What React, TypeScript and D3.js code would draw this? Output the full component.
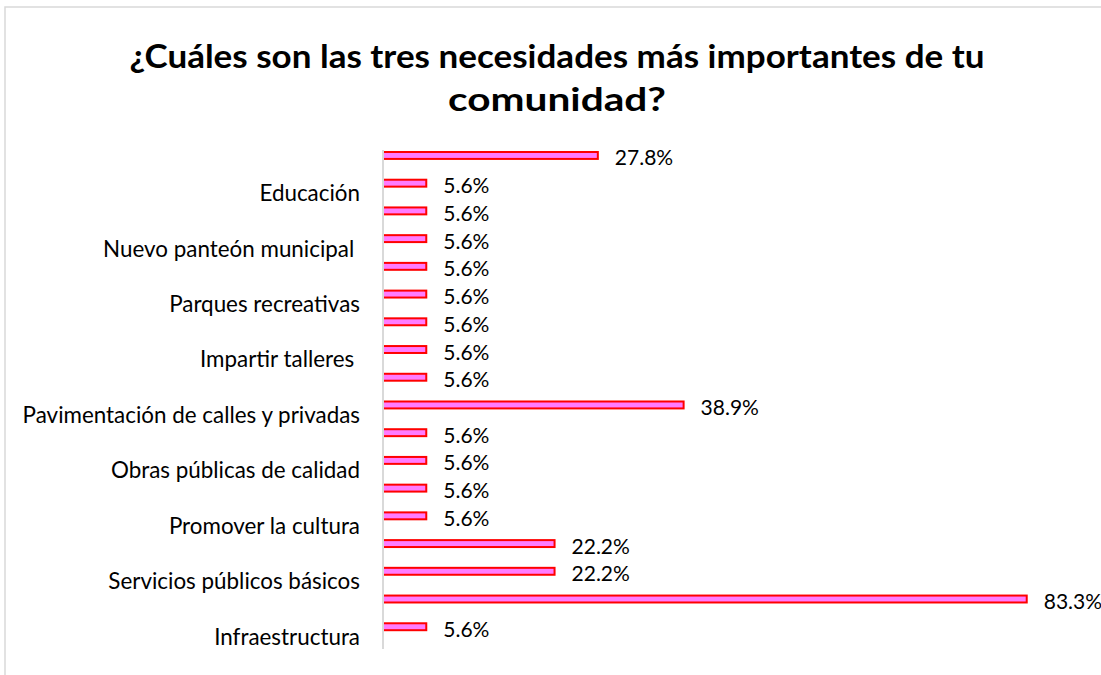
import React from "react";
import * as d3 from "d3";

const titleLines = ["¿Cuáles son las tres necesidades más importantes de tu", "comunidad?"];
const titleWidths = [855, 218];

// Category labels (Excel showed only every other label; hidden ones left blank)
const categories = [
  "",
  "Educación",
  "",
  "Nuevo panteón municipal ",
  "",
  "Parques recreativas",
  "",
  "Impartir talleres ",
  "",
  "Pavimentación de calles y privadas",
  "",
  "Obras públicas de calidad",
  "",
  "Promover la cultura",
  "",
  "Servicios públicos básicos",
  "",
  "Infraestructura",
];

const values = [
  0.278, 0.056, 0.056, 0.056, 0.056, 0.056, 0.056, 0.056, 0.056,
  0.389, 0.056, 0.056, 0.056, 0.056, 0.222, 0.222, 0.833, 0.056,
];

const W = 1101;
const H = 675;
const FONT = "Lato, 'Open Sans', sans-serif";

export default function App() {
  const plotLeft = 383;
  const plotTop = 150;
  const plotBottom = 649;
  const x = d3.scaleLinear().domain([0, 0.9]).range([plotLeft, plotLeft + 695.5]);
  const y = d3
    .scaleBand<number>()
    .domain(d3.range(values.length))
    .range([plotTop, plotBottom])
    .paddingInner(0)
    .paddingOuter(0);
  const bw = y.bandwidth();
  const fmt = d3.format(".1%");

  return (
    <svg
      width={W}
      height={H}
      style={{ position: "absolute", left: 0, top: 0, background: "#fff" }}
    >
      <rect x={5} y={7} width={W + 10} height={H + 10} fill="#fff" stroke="#D9D9D9" strokeWidth={1.5} />
      {titleLines.map((t, i) => (
        <text
          key={i}
          x={557}
          y={55 + i * 43}
          textAnchor="middle"
          dominantBaseline="central"
          fontFamily={FONT}
          fontWeight="bold"
          fontSize={32}
          fill="#000"
          textLength={titleWidths[i]}
          lengthAdjust="spacingAndGlyphs"
        >
          {t}
        </text>
      ))}
      {values.map((v, i) => {
        const by = (y(i) as number) + bw * 0.072;
        const bh = bw * 0.25;
        return (
          <g key={i}>
            <rect
              x={x(0)}
              y={by}
              width={x(v) - x(0)}
              height={bh}
              fill="#FF7CFF"
              stroke="#FF0000"
              strokeWidth={2}
            />
            <text
              x={x(v) + 17}
              y={by + bh / 2 + 1.5}
              dominantBaseline="central"
              fontFamily={FONT}
              fontSize={21}
              fill="#000"
            >
              {fmt(v)}
            </text>
          </g>
        );
      })}
      <line x1={plotLeft} x2={plotLeft} y1={plotTop} y2={plotBottom} stroke="#D9D9D9" strokeWidth={2} />
      {categories.map((c, i) =>
        c ? (
          <text
            key={i}
            x={360}
            y={(y(i) as number) + bw / 2 + 1}
            textAnchor="end"
            dominantBaseline="central"
            fontFamily={FONT}
            fontSize={22.4}
            fill="#000"
            style={{ whiteSpace: "pre" }}
          >
            {c}
          </text>
        ) : null
      )}
    </svg>
  );
}
